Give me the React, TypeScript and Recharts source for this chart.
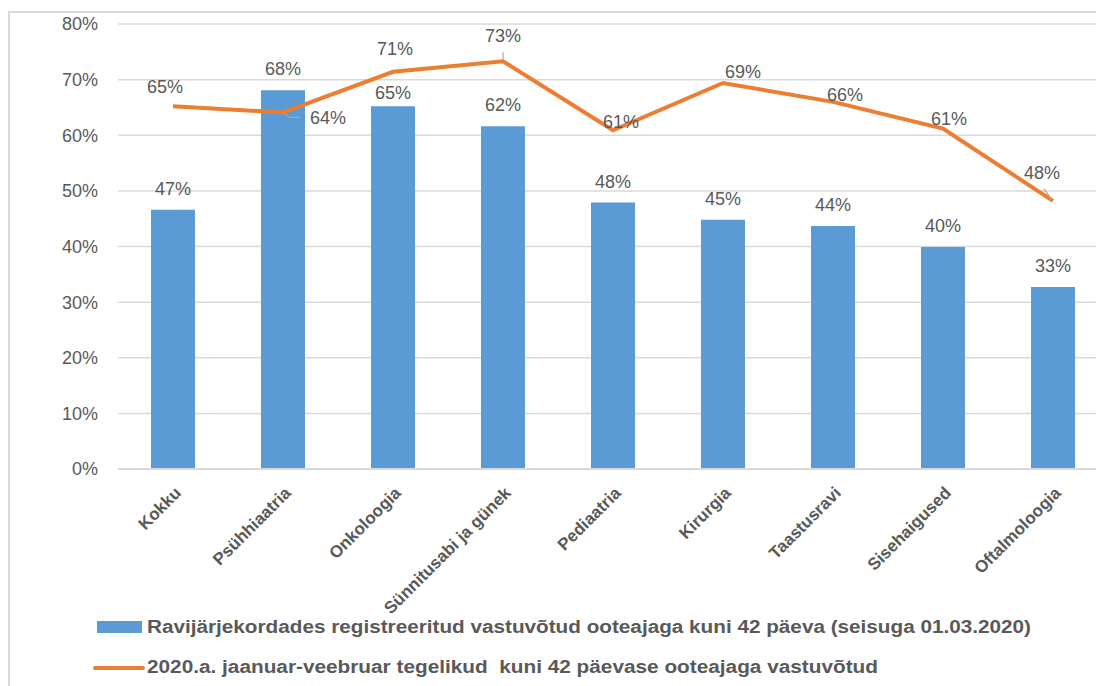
import React from 'react';
import { ComposedChart, Bar, Line, XAxis, YAxis, CartesianGrid, LabelList } from 'recharts';

const categories = [
  'Kokku',
  'Psühhiaatria',
  'Onkoloogia',
  'Sünnitusabi ja günek',
  'Pediaatria',
  'Kirurgia',
  'Taastusravi',
  'Sisehaigused',
  'Oftalmoloogia',
];
const registeredShare = [46.6, 68.1, 65.2, 61.6, 47.9, 44.8, 43.7, 39.9, 32.7];
const actualShare = [65.2, 64.1, 71.4, 73.3, 60.9, 69.4, 66.0, 61.2, 48.2];
const yTicks = [0, 10, 20, 30, 40, 50, 60, 70, 80];
const seriesNames = [
  'Ravijärjekordades registreeritud vastuvõtud ooteajaga kuni 42 päeva (seisuga 01.03.2020)',
  '2020.a. jaanuar-veebruar tegelikud  kuni 42 päevase ooteajaga vastuvõtud',
];

const data = categories.map((name, i) => ({ name, reg: registeredShare[i], act: actualShare[i] }));

const FONT = '"Liberation Sans", Arial, sans-serif';
const GRAY = '#595959';
const BLUE = '#5B9BD5';
const ORANGE = '#ED7D31';
const GRID = '#D9D9D9';

const LINE_LABEL_OFFSETS: [number, number][] = [
  [-8, -19], [45, 6], [2, -23], [0, -25], [8, -8], [20, -11], [12, -7], [6, -10], [-11, -28],
];
const BAR_LABEL_OFFSETS = [-21, -21, -13, -21, -21, -21, -21, -21, -21];

const XTick = (props: any) => {
  const { x, y, payload } = props;
  return (
    <g transform={`translate(${x + 9},${y + 25}) rotate(-45)`}>
      <text textAnchor="end" fill={GRAY} fontFamily={FONT} fontWeight="bold" fontSize={17}>
        {payload.value}
      </text>
    </g>
  );
};

const BarLabel = (props: any) => {
  const { x, y, width, value, index } = props;
  return (
    <text
      x={x + width / 2}
      y={y + BAR_LABEL_OFFSETS[index]}
      textAnchor="middle"
      dominantBaseline="central"
      fill={GRAY}
      fontFamily={FONT}
      fontSize={18}
    >
      {Math.round(value)}%
    </text>
  );
};

const LineLabel = (props: any) => {
  const { x, y, value, index } = props;
  const [dx, dy] = LINE_LABEL_OFFSETS[index];
  let leader: string | null = null;
  if (index === 1) leader = `M${x + 1},${y + 1} L${x + 7},${y + 5} L${x + 17},${y + 5}`;
  if (index === 3) leader = `M${x},${y - 9} L${x},${y - 1}`;
  if (index === 8) leader = `M${x - 9},${y - 12} L${x - 1},${y - 1}`;
  return (
    <g>
      {leader && <path d={leader} stroke="#A6A6A6" strokeWidth={1.2} fill="none" />}
      <text
        x={x + dx}
        y={y + dy}
        textAnchor="middle"
        dominantBaseline="central"
        fill={GRAY}
        fontFamily={FONT}
        fontSize={18}
      >
        {Math.round(value)}%
      </text>
    </g>
  );
};

export default function App() {
  return (
    <div
      style={{
        position: 'fixed',
        left: 0,
        top: 0,
        width: 1096,
        height: 686,
        overflow: 'hidden',
        background: '#fff',
      }}
    >
      <div
        style={{
          position: 'absolute',
          left: 8,
          top: 11,
          width: 1300,
          height: 900,
          borderLeft: `2px solid ${GRID}`,
          borderTop: `2px solid ${GRID}`,
          pointerEvents: 'none',
        }}
      />
      <div style={{ position: 'absolute', left: 0, top: 0 }}>
        <ComposedChart
          width={1120}
          height={686}
          data={data}
          margin={{ top: 24, right: 12, left: 0, bottom: 117 }}
          barCategoryGap={0}
        >
          <CartesianGrid vertical={false} stroke={GRID} strokeWidth={1.5} />
          <XAxis
            dataKey="name"
            interval={0}
            height={100}
            tickLine={false}
            tickSize={0}
            tickMargin={0}
            axisLine={{ stroke: GRID, strokeWidth: 2 }}
            tick={<XTick />}
          />
          <YAxis
            width={118}
            domain={[0, 80]}
            ticks={yTicks}
            tickFormatter={(v: number) => `${v}%`}
            axisLine={false}
            tickLine={false}
            tickSize={0}
            tickMargin={20}
            tick={{ fill: GRAY, fontFamily: FONT, fontSize: 18 }}
          />
          <Bar dataKey="reg" name={seriesNames[0]} fill={BLUE} barSize={44} isAnimationActive={false}>
            <LabelList dataKey="reg" content={<BarLabel />} />
          </Bar>
          <Line
            dataKey="act"
            name={seriesNames[1]}
            type="linear"
            stroke={ORANGE}
            strokeWidth={4}
            dot={false}
            activeDot={false}
            isAnimationActive={false}
          >
            <LabelList dataKey="act" content={<LineLabel />} />
          </Line>
        </ComposedChart>
      </div>
      <svg
        width={1096}
        height={686}
        style={{ position: 'absolute', left: 0, top: 0, pointerEvents: 'none' }}
      >
        <rect x={97} y={621} width={45} height={12} fill={BLUE} />
        <text
          x={147}
          y={627}
          dominantBaseline="central"
          fill={GRAY}
          fontFamily={FONT}
          fontWeight="bold"
          fontSize={18}
          textLength={884}
          lengthAdjust="spacingAndGlyphs"
          style={{ whiteSpace: 'pre' }}
        >
          {seriesNames[0]}
        </text>
        <line x1={95} y1={668} x2={143} y2={668} stroke={ORANGE} strokeWidth={4} strokeLinecap="round" />
        <text
          x={147}
          y={667}
          dominantBaseline="central"
          fill={GRAY}
          fontFamily={FONT}
          fontWeight="bold"
          fontSize={18}
          textLength={731}
          lengthAdjust="spacingAndGlyphs"
          style={{ whiteSpace: 'pre' }}
        >
          {seriesNames[1]}
        </text>
      </svg>
    </div>
  );
}
